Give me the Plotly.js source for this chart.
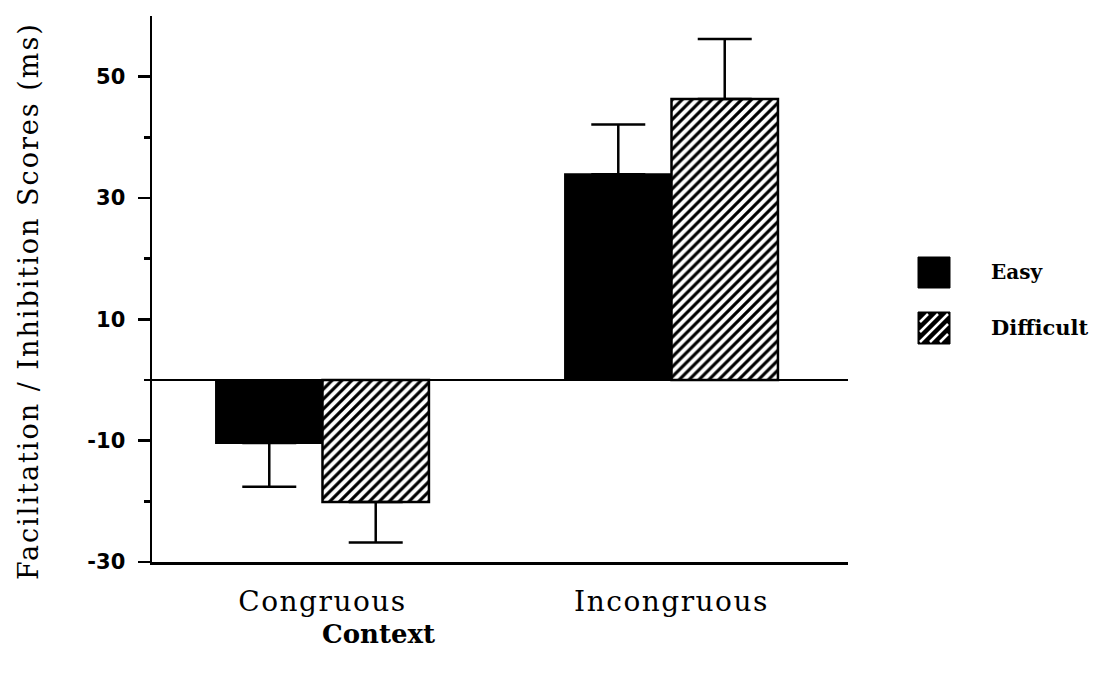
<!DOCTYPE html>
<html>
<head>
<meta charset="utf-8">
<script src="https://cdn.plot.ly/plotly-3.0.1.min.js"></script>
<style>
html,body{margin:0;padding:0;background:#fff;}
#chart{width:1094px;height:674px;}
.xtick text{letter-spacing:1.5px;}
g.annotation[data-index="0"] text{letter-spacing:2px;}
</style>
</head>
<body>
<div id="chart"></div>
<script>
// ---- data ----
const categories = ["Congruous", "Incongruous"];
const easyValues = [-10.4, 33.9];
const easyErrors = [7.2, 8.2];
const difficultValues = [-20.1, 46.3];
const difficultErrors = [6.7, 9.9];
const seriesNames = ["Easy", "Difficult"];
const yTickVals = [50, 30, 10, -10, -30];
const yTickText = ["50", "30", "10", "-10", "-30"];
const yMinorVals = [40, 20, 0, -20];
const yTitle = "Facilitation / Inhibition Scores (ms)";
const xTitle = "Context";

// ---- layout geometry (pixels) ----
const W = 1094, H = 674;
const L = 152, R = 848, T = 16, B = 562;
const px = x => (x - L) / (R - L);
const py = y => (B - y) / (B - T);

// error bars only away from zero
function upErr(vals, errs){ return vals.map((v,i)=> v >= 0 ? errs[i] : 0); }
function downErr(vals, errs){ return vals.map((v,i)=> v < 0 ? errs[i] : 0); }

const errStyle = {type:'data', symmetric:false, color:'#000', thickness:2.5, width:27};

const traces = [
  {
    type:'bar', name:seriesNames[0], x:categories, y:easyValues,
    marker:{color:'#000', line:{color:'#000', width:2}},
    error_y:Object.assign({array:upErr(easyValues,easyErrors), arrayminus:downErr(easyValues,easyErrors)}, errStyle),
    showlegend:false
  },
  {
    type:'bar', name:seriesNames[1], x:categories, y:difficultValues,
    marker:{color:'#fff', line:{color:'#000', width:2.5},
      pattern:{shape:'/', fgcolor:'#000', bgcolor:'#fff', size:7, solidity:0.45}},
    error_y:Object.assign({array:upErr(difficultValues,difficultErrors), arrayminus:downErr(difficultValues,difficultErrors)}, errStyle),
    showlegend:false
  }
];

// legend swatches (decoration)
const shapes = [];
function pxRect(x0,y0,x1,y1,fill){
  shapes.push({type:'rect', xref:'paper', yref:'paper', x0:px(x0), x1:px(x1), y0:py(y1), y1:py(y0),
    fillcolor:fill, line:{color:'#000', width:1}, layer:'above'});
}
pxRect(918,257,950,288,'#000');
pxRect(918,312,950,344,'#000');
// white diagonal stripes on the Difficult swatch
(function(){
  const x0=918, y0=312, s=32;
  for(const d of [-20,-10,0,10,20]){
    const u0 = Math.max(0,-d)+2, v0 = u0 + d;
    const u1 = Math.min(s, s-d)-2, v1 = u1 + d;
    shapes.push({type:'line', xref:'paper', yref:'paper',
      x0:px(x0+u0), y0:py(y0+s-v0), x1:px(x0+u1), y1:py(y0+s-v1),
      line:{color:'#fff', width:2.5}, layer:'above'});
  }
})();

const annotations = [
  {text:yTitle, xref:'paper', yref:'paper', x:px(29), y:py(301), xanchor:'center', yanchor:'middle',
   textangle:-90, showarrow:false, font:{family:'DejaVu Serif', size:27, color:'#000'}},
  {text:xTitle, xref:'paper', yref:'paper', x:px(378), y:py(634), xanchor:'center', yanchor:'middle',
   showarrow:false, font:{family:'DejaVu Serif', size:26, color:'#000', weight:'bold'}},
  {text:seriesNames[0], xref:'paper', yref:'paper', x:px(989), y:py(272), xanchor:'left', yanchor:'middle',
   showarrow:false, font:{family:'DejaVu Serif', size:20, color:'#000', weight:'bold'}},
  {text:seriesNames[1], xref:'paper', yref:'paper', x:px(989), y:py(327), xanchor:'left', yanchor:'middle',
   showarrow:false, font:{family:'DejaVu Serif', size:21, color:'#000', weight:'bold'}}
];

const layout = {
  width:W, height:H,
  margin:{l:L, r:W-R, t:T, b:H-B, pad:0},
  paper_bgcolor:'#fff', plot_bgcolor:'#fff',
  barmode:'group', bargap:0.39, bargroupgap:0,
  showlegend:false,
  xaxis:{
    type:'category', range:[-0.4885, 1.5057],
    showline:true, linecolor:'#000', linewidth:2.5,
    showgrid:false, zeroline:false, ticks:'', ticklabelstandoff:13,
    tickfont:{family:'DejaVu Serif', size:28, color:'#000'}
  },
  yaxis:{
    range:[-30, 60], showline:true, linecolor:'#000', linewidth:2.5,
    showgrid:false, zeroline:true, zerolinecolor:'#000', zerolinewidth:2.5,
    tickmode:'array', tickvals:yTickVals, ticktext:yTickText,
    ticks:'outside', ticklen:12, tickwidth:2.5, tickcolor:'#000',
    ticklabelstandoff:8,
    tickfont:{family:'DejaVu Sans', size:21, color:'#000', weight:'bold'},
    minor:{tickmode:'array', tickvals:yMinorVals, ticks:'outside', ticklen:6, tickwidth:2.5, tickcolor:'#000', showgrid:false}
  },
  shapes:shapes,
  annotations:annotations
};

Plotly.newPlot('chart', traces, layout, {displayModeBar:false, staticPlot:true});
</script>
</body>
</html>
